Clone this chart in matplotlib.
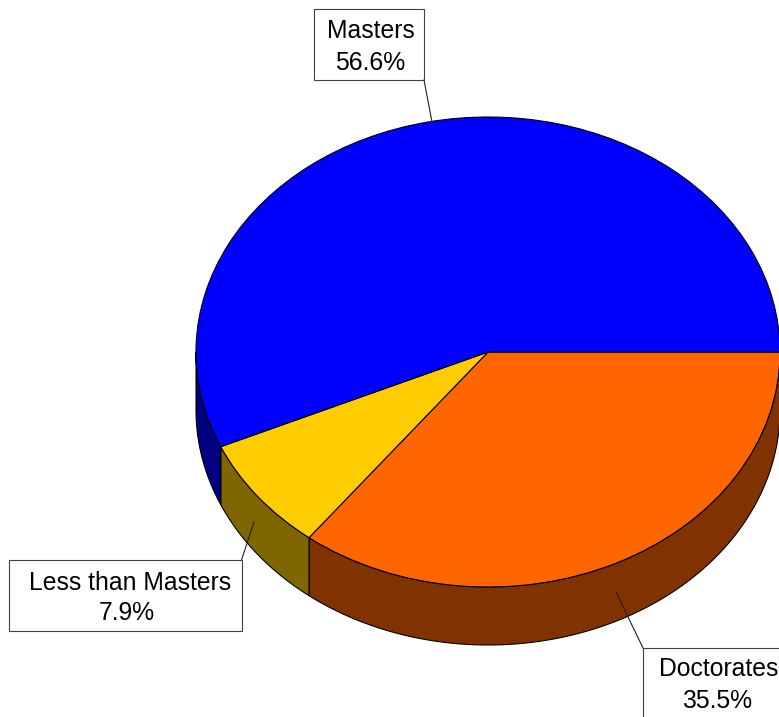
import numpy as np
import matplotlib
matplotlib.use("Agg")
import matplotlib.pyplot as plt

categories = ["Doctorates", "Less than Masters", "Masters"]
shares = [35.5, 7.9, 56.6]
top_colors = ["#ff6600", "#ffcc00", "#0000ff"]
side_colors = ["#803300", "#806600", "#000080"]

W, H = 779, 717
CX, CY, RX, RY = 488, 352, 292, 235
DEPTH = 58 / RY

# label box (left, top, right, bottom), text x for each line, line y's, leader line
boxes = {
    "Masters": ((313.5, 9, 424, 80), (371, 370), (30, 61), ((424, 80), (432, 122))),
    "Less than Masters": ((9, 560, 241.5, 631), (130.5, 126.5), (581, 612), ((241.5, 560), (254, 522))),
    "Doctorates": ((643, 648, 800, 740), (718.5, 717), (668, 699), ((643, 648), (616, 592))),
}


def px(x, y):
    return (x - CX) / RX, (CY - y) / RY


plt.rcParams["font.family"] = ["Liberation Sans", "DejaVu Sans"]
fig = plt.figure(figsize=(W / 100, H / 100), dpi=100)
ax = fig.add_axes([0, 0, 1, 1])

ax.pie(shares, colors=top_colors, startangle=0, counterclock=False,
       wedgeprops={"edgecolor": "black", "linewidth": 0.8, "zorder": 3})

# side wall under each slice, only the part facing the viewer
start = 0.0
for share, color in zip(shares, side_colors):
    stop = start - share * 3.6
    a = np.radians(np.linspace(start, max(stop, -180), 120))
    xs = np.cos(a)
    ys = np.sin(a)
    ax.fill(np.r_[xs, xs[::-1]], np.r_[ys, ys[::-1] - DEPTH], facecolor=color,
            edgecolor="black", linewidth=0.8, zorder=2, clip_on=False)
    start = stop

for name, share in zip(categories, shares):
    (left, top, right, bottom), text_x, lines_y, leader = boxes[name]
    x0, y0 = px(left, bottom)
    x1, y1 = px(right, top)
    ax.fill([x0, x1, x1, x0], [y0, y0, y1, y1], facecolor="white",
            edgecolor="#404040", linewidth=0.8, zorder=5)
    p0 = px(*leader[0])
    p1 = px(*leader[1])
    ax.plot([p0[0], p1[0]], [p0[1], p1[1]], color="#202020", linewidth=0.8, zorder=6)
    for text, tx, ly in zip([name, f"{share}%"], text_x, lines_y):
        tpos = px(tx, ly + 1.5)
        ax.text(tpos[0], tpos[1], text, fontsize=17.85, color="black", ha="center",
                va="center", zorder=7, clip_on=False)

ax.set_aspect("auto")
ax.set_xlim(px(0, 0)[0], px(W, 0)[0])
ax.set_ylim(px(0, H)[1], px(0, 0)[1])
ax.axis("off")

fig.savefig("out.png", dpi=100)
